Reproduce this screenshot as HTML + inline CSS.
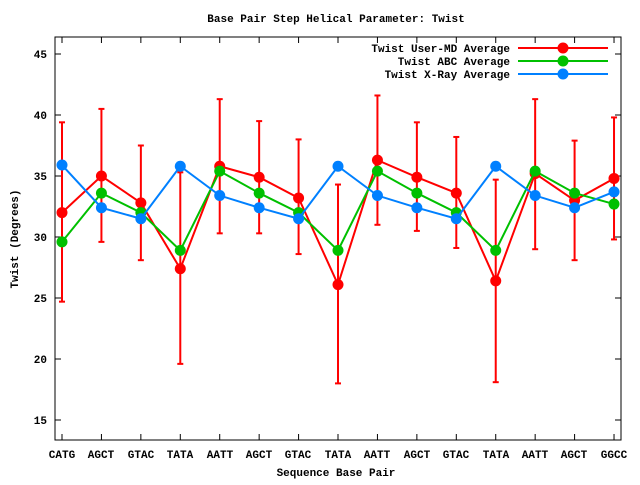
<!DOCTYPE html>
<html><head><style>
html,body{margin:0;padding:0;background:#fff;}
svg text{font-family:"Liberation Mono","DejaVu Sans Mono",monospace;font-weight:bold;font-size:11px;fill:#000;}
</style></head><body>
<svg id="s" width="640" height="480" xmlns="http://www.w3.org/2000/svg">
<rect width="640" height="480" fill="#fff"/>
<text x="336" y="22" text-anchor="middle">Base Pair Step Helical Parameter: Twist</text>
<text x="336" y="476" text-anchor="middle">Sequence Base Pair</text>
<text transform="translate(18,239) rotate(-90)" text-anchor="middle">Twist (Degrees)</text>
<g text-anchor="end">
<text x="47" y="58">45</text><text x="47" y="119">40</text><text x="47" y="180">35</text>
<text x="47" y="241">30</text><text x="47" y="302">25</text><text x="47" y="363">20</text><text x="47" y="424">15</text>
</g>
<g text-anchor="middle">
<text x="62" y="458">CATG</text><text x="101" y="458">AGCT</text><text x="141" y="458">GTAC</text>
<text x="180" y="458">TATA</text><text x="220" y="458">AATT</text><text x="259" y="458">AGCT</text>
<text x="298" y="458">GTAC</text><text x="338" y="458">TATA</text><text x="377" y="458">AATT</text>
<text x="417" y="458">AGCT</text><text x="456" y="458">GTAC</text><text x="496" y="458">TATA</text>
<text x="535" y="458">AATT</text><text x="574" y="458">AGCT</text><text x="614" y="458">GGCC</text>
</g>
<g text-anchor="end">
<text x="510" y="52">Twist User-MD Average</text>
<text x="510" y="65">Twist ABC Average</text>
<text x="510" y="78">Twist X-Ray Average</text>
</g>
<g id="plot"></g>
<rect x="55" y="37" width="566" height="403" fill="none" stroke="#000" stroke-width="1"/>
</svg>
<script>
var ns="http://www.w3.org/2000/svg",g=document.getElementById("plot");
function el(t,a){var e=document.createElementNS(ns,t);for(var k in a)e.setAttribute(k,a[k]);g.appendChild(e);return e;}
function X(i){return 62+i*39.43;}function Y(v){return 237-(v-30)*12.2;}
// ticks
[15,20,25,30,35,40,45].forEach(function(v){el("line",{x1:55,x2:61,y1:Y(v),y2:Y(v),stroke:"#000"});el("line",{x1:615,x2:621,y1:Y(v),y2:Y(v),stroke:"#000"});});
for(var i=0;i<15;i++){el("line",{x1:X(i),x2:X(i),y1:440,y2:434,stroke:"#000"});el("line",{x1:X(i),x2:X(i),y1:37,y2:43,stroke:"#000"});}
var red=[32.0,35.0,32.8,27.4,35.8,34.9,33.2,26.1,36.3,34.9,33.6,26.4,35.2,33.0,34.8];
var rt=[39.4,40.5,37.5,35.3,41.3,39.5,38.0,34.3,41.6,39.4,38.2,34.7,41.3,37.9,39.8];
var rb=[24.7,29.6,28.1,19.6,30.3,30.3,28.6,18.0,31.0,30.5,29.1,18.1,29.0,28.1,29.8];
var green=[29.6,33.6,32.0,28.9,35.4,33.6,32.0,28.9,35.4,33.6,32.0,28.9,35.4,33.6,32.7];
var blue=[35.9,32.4,31.5,35.8,33.4,32.4,31.5,35.8,33.4,32.4,31.5,35.8,33.4,32.4,33.7];
function series(d,c,t,b){
  if(t)for(var i=0;i<15;i++){el("line",{x1:X(i),x2:X(i),y1:Y(t[i]),y2:Y(b[i]),stroke:c,"stroke-width":2});
    el("line",{x1:X(i)-3,x2:X(i)+3,y1:Y(t[i]),y2:Y(t[i]),stroke:c,"stroke-width":2});
    el("line",{x1:X(i)-3,x2:X(i)+3,y1:Y(b[i]),y2:Y(b[i]),stroke:c,"stroke-width":2});}
  el("polyline",{points:d.map(function(v,i){return X(i)+","+Y(v);}).join(" "),fill:"none",stroke:c,"stroke-width":2});
  d.forEach(function(v,i){el("circle",{cx:X(i),cy:Y(v),r:5.5,fill:c});});
}
series(red,"#ff0000",rt,rb);series(green,"#00c000");series(blue,"#0080ff");
[["#ff0000",48],["#00c000",61],["#0080ff",74]].forEach(function(a){
 el("line",{x1:518,x2:608,y1:a[1],y2:a[1],stroke:a[0],"stroke-width":2});
 el("circle",{cx:563,cy:a[1],r:5.5,fill:a[0]});});
</script>
</body></html>
